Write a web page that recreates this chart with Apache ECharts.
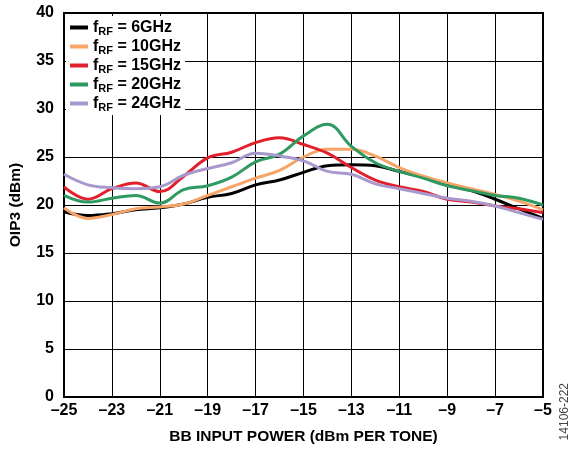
<!DOCTYPE html>
<html>
<head>
<meta charset="utf-8">
<script src="https://cdn.jsdelivr.net/npm/echarts@6/dist/echarts.min.js"></script>
<style>html,body{margin:0;padding:0;background:#fff}#c{width:578px;height:453px}</style>
</head>
<body>
<div id="c"></div>
<script>
// Input power (dBm per tone)
var xValues = [-25,-24,-23,-22,-21,-20,-19,-18,-17,-16,-15,-14,-13,-12,-11,-10,-9,-8,-7,-6,-5];
// OIP3 (dBm) per RF frequency
var f6GHz  = [19.3,18.9,19.1,19.5,19.7,20.1,20.8,21.2,22.1,22.6,23.4,24.1,24.2,24.1,23.5,22.9,22.1,21.5,20.6,19.6,18.6];
var f10GHz = [19.7,18.6,19.0,19.6,19.8,20.1,21.0,21.9,22.8,23.6,25.0,25.8,25.8,25.1,23.9,23.0,22.3,21.7,21.1,20.4,19.5];
var f15GHz = [21.9,20.6,21.7,22.3,21.4,23.0,24.9,25.5,26.5,27.0,26.3,25.4,23.9,22.6,21.9,21.4,20.6,20.3,19.9,19.6,19.2];
var f20GHz = [21.0,20.3,20.7,21.0,20.2,21.6,22.0,22.9,24.5,25.3,27.2,28.4,26.1,24.4,23.5,22.8,22.0,21.5,21.0,20.7,20.0];
var f24GHz = [23.2,22.1,21.8,21.7,21.9,23.1,23.8,24.4,25.4,25.1,24.6,23.5,23.2,22.2,21.7,21.2,20.7,20.4,19.9,19.2,18.5];
var seriesNames = ['6GHz','10GHz','15GHz','20GHz','24GHz'];
var seriesColors = ['#000000','#F7A468','#E21F2D','#2E9A62','#A898CC'];

function pairs(ys){ return xValues.map(function(x,i){ return [x, ys[i]]; }); }
var allData = [f6GHz,f10GHz,f15GHz,f20GHz,f24GHz];

var font = 'Liberation Sans, Arial, sans-serif';
var chart = echarts.init(document.getElementById('c'));
chart.setOption({
  animation:false,
  backgroundColor:'#fff',
  grid:{left:63,right:35,top:13,bottom:56,show:true,borderColor:'#000',borderWidth:2,backgroundColor:'transparent'},
  legend:{
    left:66, top:16, orient:'vertical', itemGap:0, itemWidth:18, itemHeight:4, icon:'rect',
    backgroundColor:'#fff', padding:[2,4,2,4],
    data: seriesNames.map(function(n){return 'fRF = '+n;}),
    formatter:function(name){ return '{a|f}{b|RF}{a|'+name.substring(3)+'}'; },
    textStyle:{fontFamily:font,fontWeight:'bold',fontSize:16,color:'#000',
      rich:{a:{fontFamily:font,fontWeight:'bold',fontSize:16,color:'#000',lineHeight:18},
            b:{fontFamily:font,fontWeight:'bold',fontSize:11,color:'#000',padding:[8,0,0,0],lineHeight:18}}}
  },
  xAxis:{
    type:'value', min:-25, max:-5, interval:2,
    name:'BB INPUT POWER (dBm PER TONE)', nameLocation:'middle', nameGap:32,
    nameTextStyle:{fontFamily:font,fontWeight:'bold',fontSize:15.5,color:'#000'},
    axisLine:{show:true,lineStyle:{color:'#000',width:2}},
    axisTick:{show:false},
    axisLabel:{fontFamily:font,fontWeight:'bold',fontSize:16,color:'#000',margin:6,
      formatter:function(v){return String(v).replace('-','\u2013');}},
    splitLine:{show:true,lineStyle:{color:'#000',width:1}}
  },
  yAxis:{
    type:'value', min:0, max:40, interval:5,
    name:'OIP3 (dBm)', nameLocation:'middle', nameGap:40,
    nameTextStyle:{fontFamily:font,fontWeight:'bold',fontSize:15.5,color:'#000'},
    axisLine:{show:true,lineStyle:{color:'#000',width:2}},
    axisTick:{show:false},
    axisLabel:{fontFamily:font,fontWeight:'bold',fontSize:16,color:'#000',margin:10},
    splitLine:{show:true,lineStyle:{color:'#000',width:1}}
  },
  graphic:[{type:'text',left:559,top:383,rotation:Math.PI/2,
    style:{text:'14106-222',font:'12px '+font,fill:'#444'}}],
  series: seriesNames.map(function(n,i){
    return {name:'fRF = '+n,type:'line',smooth:0.4,showSymbol:false,
      data:pairs(allData[i]),lineStyle:{width:3,color:seriesColors[i]},itemStyle:{color:seriesColors[i]}};
  })
});
</script>
</body>
</html>
